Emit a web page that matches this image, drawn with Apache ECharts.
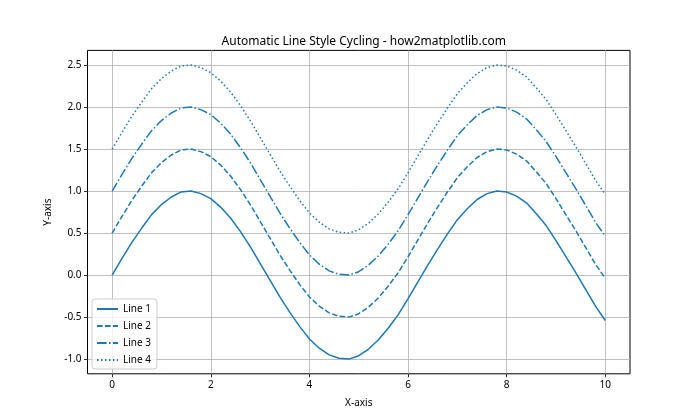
<!DOCTYPE html>
<html><head><meta charset="utf-8">
<script src="https://cdn.jsdelivr.net/npm/echarts@6/dist/echarts.min.js"></script>
<style>html,body{margin:0;padding:0;background:#fff}#c{width:700px;height:420px}</style>
</head><body><div id="c"></div>
<script>
const xValues = [0,0.2,0.4,0.6,0.8,1,1.2,1.4,1.6,1.8,2,2.2,2.4,2.6,2.8,3,3.2,3.4,3.6,3.8,4,4.2,4.4,4.6,4.8,5,5.2,5.4,5.6,5.8,6,6.2,6.4,6.6,6.8,7,7.2,7.4,7.6,7.8,8,8.2,8.4,8.6,8.8,9,9.2,9.4,9.6,9.8,10];
const line1 = [0.00,0.20,0.39,0.56,0.72,0.84,0.93,0.99,1.00,0.97,0.91,0.81,0.68,0.52,0.34,0.14,-0.06,-0.26,-0.44,-0.61,-0.76,-0.87,-0.95,-0.99,-1.00,-0.96,-0.88,-0.77,-0.63,-0.47,-0.28,-0.08,0.12,0.31,0.49,0.66,0.79,0.90,0.97,1.00,0.99,0.94,0.86,0.73,0.59,0.41,0.22,0.03,-0.17,-0.37,-0.54];
const line2 = [0.50,0.70,0.89,1.06,1.22,1.34,1.43,1.49,1.50,1.47,1.41,1.31,1.18,1.02,0.84,0.64,0.44,0.24,0.06,-0.11,-0.26,-0.37,-0.45,-0.49,-0.50,-0.46,-0.38,-0.27,-0.13,0.03,0.22,0.42,0.62,0.81,0.99,1.16,1.29,1.40,1.47,1.50,1.49,1.44,1.36,1.23,1.09,0.91,0.72,0.53,0.33,0.13,-0.04];
const line3 = [1.00,1.20,1.39,1.56,1.72,1.84,1.93,1.99,2.00,1.97,1.91,1.81,1.68,1.52,1.34,1.14,0.94,0.74,0.56,0.39,0.24,0.13,0.05,0.01,0.00,0.04,0.12,0.23,0.37,0.53,0.72,0.92,1.12,1.31,1.49,1.66,1.79,1.90,1.97,2.00,1.99,1.94,1.86,1.73,1.59,1.41,1.22,1.03,0.83,0.63,0.46];
const line4 = [1.50,1.70,1.89,2.06,2.22,2.34,2.43,2.49,2.50,2.47,2.41,2.31,2.18,2.02,1.84,1.64,1.44,1.24,1.06,0.89,0.74,0.63,0.55,0.51,0.50,0.54,0.62,0.73,0.87,1.03,1.22,1.42,1.62,1.81,1.99,2.16,2.29,2.40,2.47,2.50,2.49,2.44,2.36,2.23,2.09,1.91,1.72,1.53,1.33,1.13,0.96];
const seriesNames = ['Line 1','Line 2','Line 3','Line 4'];
const xTicks = [0,2,4,6,8,10];
const yTicks = [-1,-0.5,0,0.5,1,1.5,2,2.5];
const titleText = 'Automatic Line Style Cycling - how2matplotlib.com';

const FONT = 'Noto Sans';
const COLOR = '#1f77b4';
const dashes = ['solid', [5.55, 2.4], [9.6, 2.4, 1.5, 2.4], [1.5, 2.475]];
const allData = [line1, line2, line3, line4];

const chart = echarts.init(document.getElementById('c'), null, {renderer: 'canvas'});
chart.setOption({
  backgroundColor: '#fff',
  animation: false,
  textStyle: {fontFamily: FONT},
  title: {
    text: titleText, left: 358.75, top: 31, textAlign: 'center',
    textStyle: {fontFamily: FONT, fontSize: 12, fontWeight: 'normal', color: '#000'}
  },
  grid: {left: 87.5, right: 70, top: 50.4, bottom: 46.2, show: true, borderColor: '#000', borderWidth: 1, backgroundColor: 'transparent'},
  legend: {
    orient: 'vertical', left: 92, top: 299,
    data: seriesNames,
    itemWidth: 21, itemHeight: 10, itemGap: 7,
    padding: [5, 6, 4, 4],
    backgroundColor: 'rgba(255,255,255,0.8)',
    borderColor: '#cccccc', borderWidth: 1, borderRadius: 3,
    itemStyle: {color: 'rgba(0,0,0,0)', borderWidth: 0, opacity: 0},
    textStyle: {fontFamily: FONT, fontSize: 10, color: '#000'}
  },
  xAxis: {
    type: 'value', min: -0.5, max: 10.5,
    name: 'X-axis', nameLocation: 'middle', nameGap: 24,
    nameTextStyle: {fontFamily: FONT, fontSize: 10, color: '#000'},
    axisLine: {show: false, onZero: false},
    axisTick: {show: true, length: 3.5, lineStyle: {color: '#000', width: 0.8}, customValues: xTicks},
    axisLabel: {fontFamily: FONT, fontSize: 10, color: '#000', margin: 6, customValues: xTicks},
    splitLine: {show: true, lineStyle: {color: '#b0b0b0', width: 0.8}}
  },
  yAxis: {
    type: 'value', min: -1.175, max: 2.675,
    name: 'Y-axis', nameLocation: 'middle', nameGap: 29, nameRotate: 90,
    nameTextStyle: {fontFamily: FONT, fontSize: 10, color: '#000'},
    axisLine: {show: false, onZero: false},
    axisTick: {show: true, length: 3.5, lineStyle: {color: '#000', width: 0.8}, customValues: yTicks},
    axisLabel: {fontFamily: FONT, fontSize: 10, color: '#000', margin: 6, customValues: yTicks,
      formatter: v => v.toFixed(1)},
    splitLine: {show: true, lineStyle: {color: '#b0b0b0', width: 0.8}}
  },
  series: allData.map((d, i) => ({
    name: seriesNames[i], type: 'line', symbol: 'none', showSymbol: false,
    data: d.map((v, j) => [xValues[j], v]),
    lineStyle: {color: COLOR, width: 1.5, type: dashes[i]},
    itemStyle: {color: COLOR},
    z: 3
  }))
});
</script></body></html>
